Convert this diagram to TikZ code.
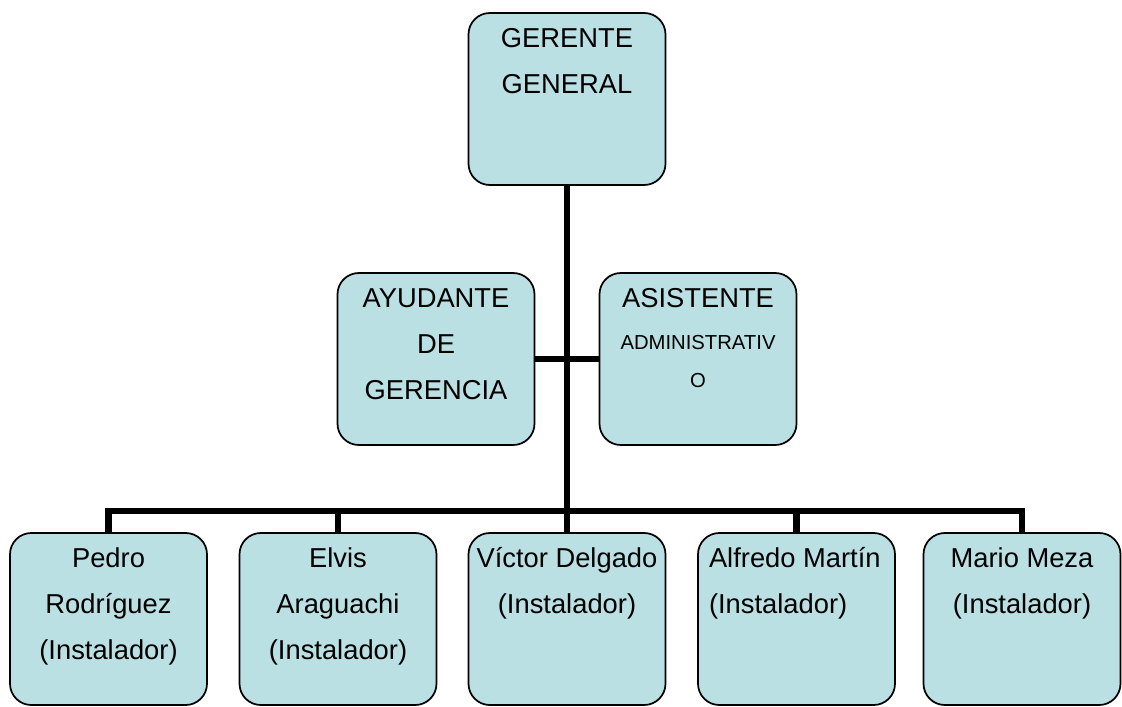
\documentclass[tikz,border=0pt]{standalone}
\usepackage{fontspec}
\setmainfont{Liberation Sans}
\definecolor{celeste}{RGB}{186,224,228}
% text of a box, set from its top edge
\newcommand{\cargo}[2][\centering]{\parbox[c][129pt][t]{147.75pt}{#1\rule{0pt}{25.5pt}#2}}
\tikzset{
  caja/.style={draw, line width=1.3pt, fill=celeste, rounded corners=16pt,
    inner sep=0pt, font=\fontsize{20.5}{34.5}\selectfont},
  linea/.style={line width=4.9pt, line join=miter}
}
\begin{document}
\begin{tikzpicture}[x=0.75pt,y=-0.75pt]
            \useasboundingbox (0,0) rectangle (1122,707);

            % Marking box of the general manager
            \node [caja] (gerente) at (567,99) {\cargo{GERENTE\\GENERAL}};%

            % Marking boxes of the staff
            \node [caja] (ayudante) at (436,359) {\cargo{AYUDANTE\\DE\\GERENCIA}};%
            \node [caja] (asistente) at (698,359) {\cargo{ASISTENTE\\[-2.5pt]{\fontsize{15.2}{34.5}\selectfont ADMINISTRATIV\\[-6.5pt]O}}};%

            % Marking boxes of the installers
            \node [caja] (pedro) at (108.5,619) {\cargo{Pedro\\Rodríguez\\(Instalador)}};%
            \node [caja] (elvis) at (338,619) {\cargo{Elvis\\Araguachi\\(Instalador)}};%
            \node [caja] (victor) at (567,619) {\cargo{Víctor Delgado\\(Instalador)}};%
            \node [caja] (alfredo) at (796.5,619) {\cargo[\raggedright\leftskip=8.25pt]{Alfredo Martín\\(Instalador)}};%
            \node [caja] (mario) at (1022,619) {\cargo{Mario Meza\\(Instalador)}};%

            % Drawing the trunk and the bus
            \coordinate (bus) at (567,511);
            \draw [linea] (gerente.south) -- (bus);%
            \draw [linea] (pedro.north) -- (pedro.north |- bus) -- (mario.north |- bus) -- (mario.north);%

            % Drawing the staff line
            \draw [linea] (ayudante.east) -- (asistente.west);%

            % Drawing the drops to the installers
            \foreach \n in {elvis,victor,alfredo}
              \draw [linea] (\n.north) -- (\n.north |- bus);%
\end{tikzpicture}
\end{document}
